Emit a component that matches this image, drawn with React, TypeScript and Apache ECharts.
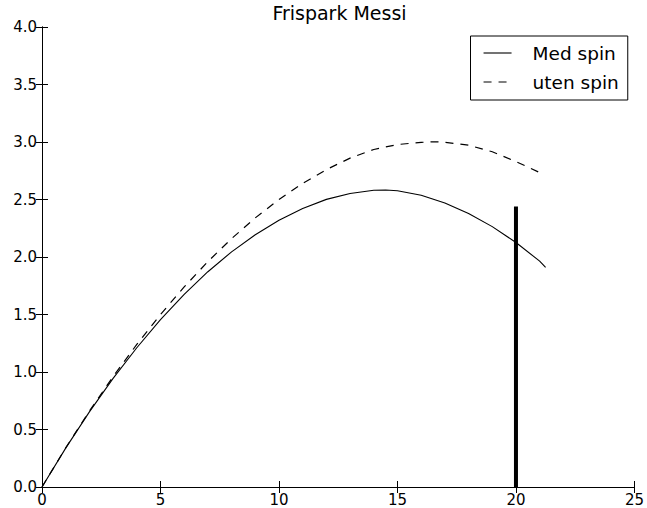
import React, { useEffect, useRef } from "react";
import * as echarts from "echarts";

const titleText = "Frispark Messi";
const seriesNames = ["Med spin", "uten spin"];

const medSpinX = [0, 1, 2, 3, 4, 5, 6, 7, 8, 9, 10, 11, 12, 13, 14, 14.5, 15, 16, 17, 18, 19, 20, 21, 21.25];
const medSpinY = [0, 0.338, 0.653, 0.944, 1.211, 1.455, 1.675, 1.872, 2.045, 2.194, 2.32, 2.422, 2.501, 2.552, 2.58, 2.583, 2.576, 2.537, 2.47, 2.379, 2.264, 2.126, 1.964, 1.91];

const utenSpinX = [0, 1, 2, 3, 4, 5, 6, 7, 8, 9, 10, 11, 12, 13, 14, 15, 16, 16.6, 17, 18, 19, 20, 21.05];
const utenSpinY = [0, 0.34, 0.66, 0.96, 1.24, 1.5, 1.74, 1.96, 2.16, 2.34, 2.5, 2.64, 2.76, 2.86, 2.935, 2.978, 2.997, 3.002, 2.998, 2.972, 2.915, 2.83, 2.73];

const postX = [20, 20];
const postY = [0, 2.44];

const xMin = 0, xMax = 25, xStep = 5;
const yMin = 0, yMax = 4, yStep = 0.5;

const zip = (xs: number[], ys: number[]) => xs.map((x, i) => [x, ys[i]]);

const FONT = "DejaVu Sans";

export default function App() {
  const ref = useRef<HTMLDivElement>(null);
  useEffect(() => {
    if (!ref.current) return;
    const chart = echarts.init(ref.current, undefined, { renderer: "svg" });
    const axisLine = { show: true, lineStyle: { color: "#000", width: 1 } };
    const tick = { show: true, inside: true, length: 6, lineStyle: { color: "#000", width: 1 } };
    const label = { color: "#000", fontSize: 15, fontFamily: FONT };
    chart.setOption({
      animation: false,
      backgroundColor: "#fff",
      title: {
        text: titleText,
        left: 339.5,
        top: 3,
        padding: 0,
        textAlign: "center",
        textStyle: { color: "#000", fontSize: 19, fontWeight: "normal", fontFamily: FONT },
      },
      legend: {
        data: seriesNames,
        orient: "vertical",
        left: 470.5,
        top: 36,
        padding: [7.5, 9, 8.5, 12.5],
        itemWidth: 28,
        itemHeight: 18,
        itemGap: 10,
        borderColor: "#000",
        borderWidth: 1,
        borderRadius: 0,
        selectedMode: false,
        itemStyle: { opacity: 0, borderWidth: 0 },
        lineStyle: { width: 1.1 },
        textStyle: { color: "#000", fontSize: 18.5, fontFamily: FONT, lineHeight: 18, padding: [0, 0, 0, 16] },
      },
      grid: { left: 42, top: 27, right: 10, bottom: 21, containLabel: false },
      xAxis: [
        {
          type: "value", min: xMin, max: xMax, interval: xStep, position: "bottom",
          axisLine, axisTick: tick, splitLine: { show: false },
          axisLabel: { ...label, margin: 5 },
        },
        {
          type: "value", min: xMin, max: xMax, interval: xStep, position: "top",
          axisLine, axisTick: tick, splitLine: { show: false }, axisLabel: { show: false },
        },
      ],
      yAxis: [
        {
          type: "value", min: yMin, max: yMax, interval: yStep, position: "left",
          axisLine, axisTick: tick, splitLine: { show: false },
          axisLabel: { ...label, margin: 5, formatter: (v: number) => v.toFixed(1) },
        },
        {
          type: "value", min: yMin, max: yMax, interval: yStep, position: "right",
          axisLine, axisTick: tick, splitLine: { show: false }, axisLabel: { show: false },
        },
      ],
      series: [
        {
          name: seriesNames[0], type: "line", xAxisIndex: 0, yAxisIndex: 0,
          data: zip(medSpinX, medSpinY), symbol: "none", smooth: false,
          lineStyle: { color: "#000", width: 1.1, type: "solid" },
          itemStyle: { color: "#000" },
        },
        {
          name: seriesNames[1], type: "line", xAxisIndex: 0, yAxisIndex: 0,
          data: zip(utenSpinX, utenSpinY), symbol: "none", smooth: false,
          lineStyle: { color: "#000", width: 1.2, type: [8, 7] },
          itemStyle: { color: "#000" },
        },
        {
          name: "post", type: "line", xAxisIndex: 0, yAxisIndex: 0,
          data: zip(postX, postY), symbol: "none",
          lineStyle: { color: "#000", width: 4, cap: "butt" },
          itemStyle: { color: "#000" },
        },
      ],
    });
    return () => chart.dispose();
  }, []);
  return (
    <div
      ref={ref}
      style={{ position: "fixed", left: 0, top: 0, width: 647, height: 508, background: "#fff" }}
    />
  );
}
